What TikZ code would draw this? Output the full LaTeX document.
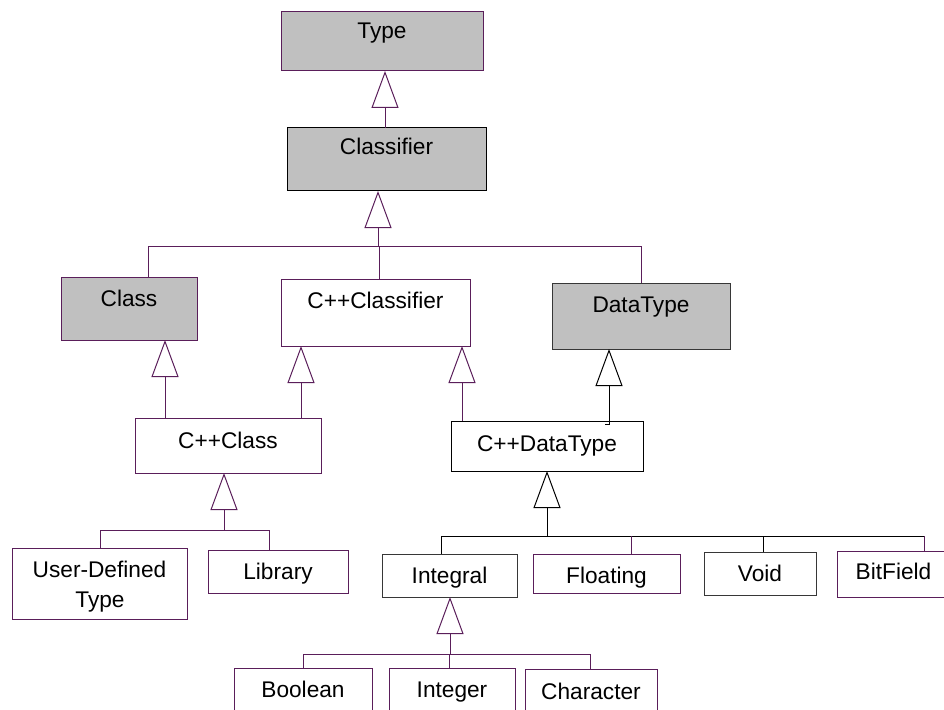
\documentclass[tikz,border=0pt]{standalone}
\usepackage{fontspec}
\setmainfont{Liberation Sans}
\usetikzlibrary{arrows.meta}
\definecolor{umlp}{RGB}{90,30,90}
\definecolor{umlfill}{RGB}{192,192,192}
\definecolor{umldk}{RGB}{55,55,55}
\newcommand\UBox[6]{\node[box,#6,minimum width={(#4-#2)*0.75pt},minimum height={(#5-#3)*0.75pt}] (#1) at ({(#2+#4)/2},{(#3+#5)/2}) {};}
\newcommand\ULab[4]{\node[lbl] (#1) at (#2,#3) {#4};}
\tikzset{
  box/.style={rectangle, draw=umlp, line width=0.75pt, inner sep=0pt, outer sep=0pt},
  grayfill/.style={fill=umlfill},
  dkedge/.style={draw=umldk},
  bkedge/.style={draw=black},
  lbl/.style={anchor=base, inner sep=0pt, font=\fontsize{17}{20}\selectfont},
  pl/.style={draw=umlp, line width=0.75pt},
  bl/.style={draw=black, line width=0.75pt},
  gen/.style={-{Triangle[open, length=27.75pt, width=20.25pt]}}
}
\begin{document}
\begin{tikzpicture}[x=0.75pt, y=-0.75pt]
\useasboundingbox (0,0) rectangle (944,709);
\clip (0,0) rectangle (944,709);
% boxes
\UBox{type}{281}{12}{483}{71}{grayfill}
\UBox{classifier}{287}{128}{486}{191}{grayfill,bkedge}
\UBox{class}{61}{277}{197}{340}{grayfill}
\UBox{cppclassifier}{281}{279}{470}{346}{}
\UBox{datatype}{552}{283}{730}{349}{grayfill,dkedge}
\UBox{cppclass}{135}{418}{321}{473}{}
\UBox{cppdatatype}{451}{421}{643}{471}{bkedge}
\UBox{udt}{12}{548}{187}{619}{}
\UBox{library}{208}{550}{348}{593}{}
\UBox{integral}{382}{554}{517}{597}{dkedge}
\UBox{floating}{533}{554}{680}{593}{}
\UBox{void}{704}{552}{816}{595}{dkedge}
\UBox{bitfield}{837}{551}{951}{597}{}
\UBox{boolean}{234}{668}{372}{725}{}
\UBox{integer}{389}{668}{515}{725}{}
\UBox{character}{525}{669}{657}{725}{}
% labels
\ULab{typeL}{382}{39}{Type}
\ULab{classifierL}{386.5}{155}{Classifier}
\ULab{classL}{129}{306}{Class}
\ULab{cppclassifierL}{375.5}{308}{C++Classifier}
\ULab{datatypeL}{641}{312}{DataType}
\ULab{cppclassL}{228}{448}{C++Class}
\ULab{cppdatatypeL}{547}{451}{C++DataType}
\ULab{udtLa}{99.5}{577}{User-Defined}
\ULab{udtLb}{100}{607}{Type}
\ULab{libraryL}{278}{579}{Library}
\ULab{integralL}{449.5}{583}{Integral}
\ULab{floatingL}{606.5}{583}{Floating}
\ULab{voidL}{760}{581}{Void}
\ULab{bitfieldL}{893.5}{579}{BitField}
\ULab{booleanL}{303}{697}{Boolean}
\ULab{integerL}{452}{697}{Integer}
\ULab{characterL}{591}{699}{Character}
% Classifier -> Type
\coordinate (xTA) at (385,0);
\draw[pl,gen] (classifier.north -| xTA) -- (type.south -| xTA);
% Class, C++Classifier, DataType -> Classifier
\coordinate (bCl) at (378,246);
\coordinate (dClass) at (148,246);
\coordinate (dCppCl) at (379,246);
\coordinate (dDT) at (641,246);
\draw[pl] (class.north -| dClass) -- (dClass) -- (dDT) -- (datatype.north -| dDT);
\draw[pl] (cppclassifier.north -| dCppCl) -- (dCppCl);
\draw[pl,gen] (bCl) -- (bCl |- classifier.south);
% C++Class -> Class, C++Classifier
\coordinate (xCA) at (165,0);
\coordinate (xCCA) at (301,0);
\coordinate (xCDA) at (462,0);
\draw[pl,gen] (cppclass.north -| xCA) -- (class.south -| xCA);
\draw[pl,gen] (cppclass.north -| xCCA) -- (cppclassifier.south -| xCCA);
% C++DataType -> C++Classifier, DataType
\draw[pl,gen] (cppdatatype.north -| xCDA) -- (cppclassifier.south -| xCDA);
\coordinate (hk) at (605,424);
\coordinate (xDA) at (609,0);
\draw[bl,gen] (hk) -- (hk -| xDA) -- (datatype.south -| xDA);
% User-Defined Type, Library -> C++Class
\coordinate (bCC) at (224,530);
\coordinate (dUD) at (100,530);
\coordinate (dLib) at (269,530);
\draw[pl] (udt.north -| dUD) -- (dUD) -- (dLib) -- (library.north -| dLib);
\draw[pl,gen] (bCC) -- (bCC |- cppclass.south);
% Integral, Floating, Void, BitField -> C++DataType
\coordinate (bDT) at (547,536);
\coordinate (dInt) at (441,536);
\coordinate (dFl) at (631,536);
\coordinate (dVoid) at (763,536);
\coordinate (dBF) at (924,536);
\draw[bl] (integral.north -| dInt) -- (dInt) -- (dBF);
\draw[pl] (dBF) -- (bitfield.north -| dBF);
\draw[bl] (void.north -| dVoid) -- (dVoid);
\draw[pl] (floating.north -| dFl) -- (dFl);
\draw[bl,gen] (bDT) -- (bDT |- cppdatatype.south);
% Boolean, Integer, Character -> Integral
\coordinate (bI) at (450,654);
\coordinate (dBool) at (303,654);
\coordinate (dInteger) at (449,654);
\coordinate (dChar) at (590,654);
\draw[pl] (boolean.north -| dBool) -- (dBool) -- (dChar) -- (character.north -| dChar);
\draw[pl] (integer.north -| dInteger) -- (dInteger);
\draw[pl,gen] (bI) -- (bI |- integral.south);
\end{tikzpicture}
\end{document}
